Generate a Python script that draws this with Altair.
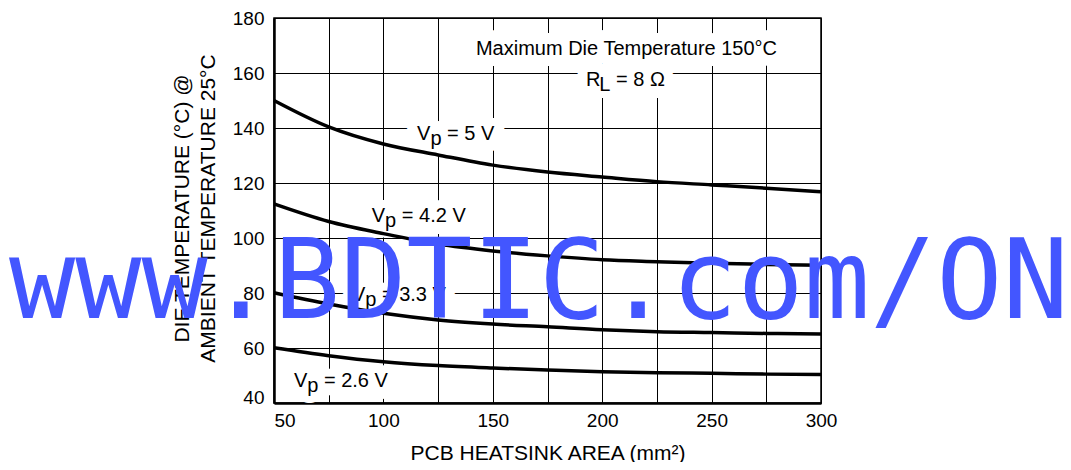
import altair as alt
import pandas as pd

# ---- data ----
area = [50, 75, 100, 125, 150, 175, 200, 225, 250, 275, 300]
vp_5_0 = [150.0, 140.4, 134.2, 130.2, 126.5, 124.0, 122.2, 120.5, 119.3, 118.1, 116.8]
vp_4_2 = [112.4, 106.0, 101.6, 97.8, 95.3, 93.5, 92.1, 91.4, 90.8, 90.4, 90.1]
vp_3_3 = [80.1, 76.0, 72.6, 70.2, 68.7, 67.7, 66.6, 65.9, 65.6, 65.3, 65.1]
vp_2_6 = [60.1, 57.2, 55.0, 53.6, 52.7, 52.0, 51.4, 51.0, 50.8, 50.5, 50.4]
series_names = ["5 V", "4.2 V", "3.3 V", "2.6 V"]

x_grid = [50, 75, 100, 125, 150, 175, 200, 225, 250, 275, 300]
y_grid = [40, 60, 80, 100, 120, 140, 160, 180]

lab_main = ["V", "V", "V", "V", "R"]
lab_sub = ["p", "p", "p", "p", "L"]
lab_rest = ["= 5 V", "= 4.2 V", "= 3.3 V", "= 2.6 V", "= 8 \u03a9"]
lab_x = [115.4, 94.7, 85.6, 59.1, 192.6]
lab_y = [135.6, 105.8, 77.1, 45.8, 155.4]

note_text = ["Maximum Die Temperature 150\u00b0C"]
note_x = [142.3]
note_y = [166.5]

watermark_text = ["www.BDTIC.com/ON"]

x_title = "PCB HEATSINK AREA (mm\u00b2)"
y_title = ["DIE TEMPERATURE (\u00b0C) @", "AMBIENT TEMPERATURE 25\u00b0C"]

# ---- tables ----
rows = []
for name, vals in zip(series_names, [vp_5_0, vp_4_2, vp_3_3, vp_2_6]):
    for a, t in zip(area, vals):
        rows.append({"series": name, "area": a, "temp": t})
curves = pd.DataFrame(rows)

labels = pd.DataFrame({"main": lab_main, "sub": lab_sub, "rest": lab_rest,
                       "area": lab_x, "temp": lab_y})
labels["full"] = labels["main"] + labels["sub"] + " " + labels["rest"]
notes = pd.DataFrame({"t": note_text, "area": note_x, "temp": note_y})
wm = pd.DataFrame({"t": watermark_text})

FONT = "Liberation Sans, Arial, sans-serif"
FS = 20

xs = alt.Scale(domain=[50, 300], nice=False, zero=False)
ys = alt.Scale(domain=[40, 180], nice=False, zero=False)

xaxis = alt.Axis(
    values=x_grid, grid=True, gridColor="black", gridWidth=1, gridOpacity=1,
    domain=True, domainColor="black", domainWidth=2.5, ticks=False,
    labelExpr="datum.value % 50 == 0 ? datum.label : ''",
    labelFlush=False, labelOverlap=False,
    labelAlign={"condition": {"test": "datum.value == 50", "value": "left"}, "value": "center"},
    labelPadding=8, labelFont=FONT, labelFontSize=19, labelColor="black",
    title=x_title, titleFont=FONT, titleFontSize=21, titleFontWeight="normal",
    titleColor="black", titleX=273.5, titleY=56, titleAlign="center",
    titleBaseline="alphabetic", titleAngle=0,
)
yaxis = alt.Axis(
    values=y_grid, grid=True, gridColor="black", gridWidth=1, gridOpacity=1,
    domain=True, domainColor="black", domainWidth=2.5, ticks=False,
    labelOverlap=False, labelFlush=False,
    labelBaseline={"condition": {"test": "datum.value == 40", "value": "alphabetic"}, "value": "middle"},
    labelPadding=10, labelFont=FONT, labelFontSize=19, labelColor="black",
    title=y_title, titleFont=FONT, titleFontSize=21, titleFontWeight="normal",
    titleColor="black", titleX=-91.5, titleY=190, titleAngle=-90,
    titleAlign="center", titleBaseline="middle", titleLineHeight=25.5,
)

X = alt.X("area:Q", scale=xs, axis=xaxis, title=x_title)
Y = alt.Y("temp:Q", scale=ys, axis=yaxis, title=y_title)

lines = alt.Chart(curves).mark_line(
    color="black", strokeWidth=3.5, interpolate="monotone"
).encode(x=X, y=Y, detail="series:N")

halo_lab = alt.Chart(labels).mark_text(
    font=FONT, fontSize=FS, align="left", baseline="alphabetic",
    fill="white", stroke="white", strokeWidth=20, strokeJoin="round", dy=2,
).encode(x=X, y=Y, text="full:N")

halo_note = alt.Chart(notes).mark_text(
    font=FONT, fontSize=FS, align="left", baseline="alphabetic",
    fill="white", stroke="white", strokeWidth=22, strokeJoin="round",
).encode(x=X, y=Y, text="t:N")

t_main = alt.Chart(labels).mark_text(
    font=FONT, fontSize=FS, align="left", baseline="alphabetic", color="black"
).encode(x=X, y=Y, text="main:N")
t_sub = alt.Chart(labels).mark_text(
    font=FONT, fontSize=FS, align="left", baseline="alphabetic", color="black",
    dx=13.3, dy=5,
).encode(x=X, y=Y, text="sub:N")
t_rest = alt.Chart(labels).mark_text(
    font=FONT, fontSize=FS, align="left", baseline="alphabetic", color="black",
    dx=30.0,
).encode(x=X, y=Y, text="rest:N")
t_note = alt.Chart(notes).mark_text(
    font=FONT, fontSize=FS, align="left", baseline="alphabetic", color="black"
).encode(x=X, y=Y, text="t:N")

t_wm = alt.Chart(wm).mark_text(
    font="DejaVu Sans Mono", fontSize=110, align="left", baseline="alphabetic",
    color="#4356FF",
).encode(x=alt.value(-265), y=alt.value(300), text="t:N")

chart = alt.layer(
    halo_note, halo_lab, lines, t_main, t_sub, t_rest, t_note, t_wm
).properties(
    width=547, height=385,
    autosize=alt.AutoSizeParams(type="none"),
    padding={"left": 266, "top": 10, "right": 242, "bottom": 59},
    background="white",
).configure_view(stroke="black", strokeWidth=1.5)

chart.save("out.html", embed_options={"renderer": "svg", "actions": False})
